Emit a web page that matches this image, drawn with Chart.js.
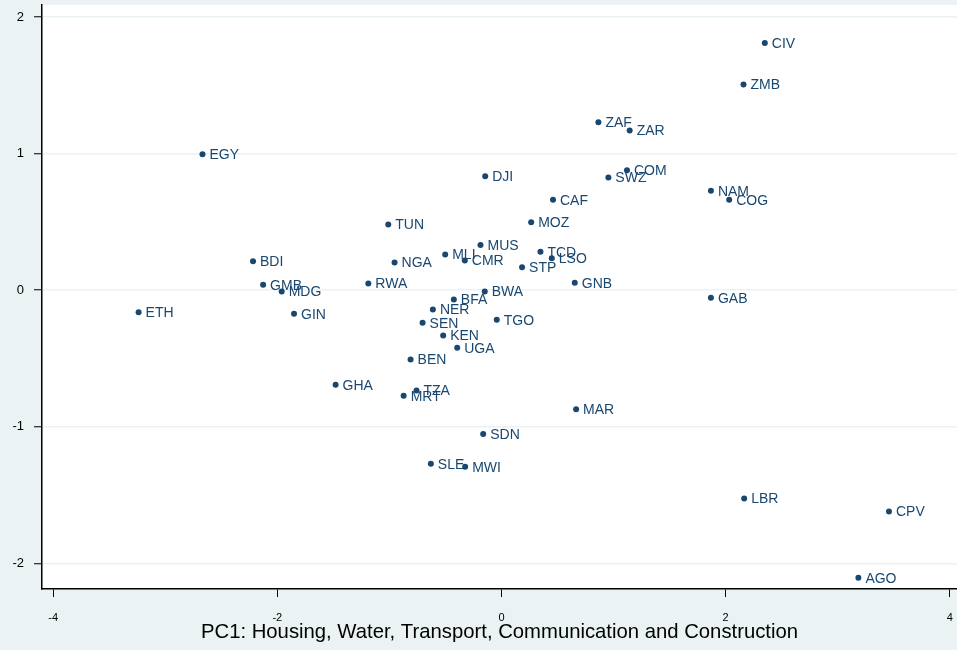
<!DOCTYPE html>
<html>
<head>
<meta charset="utf-8">
<script src="https://cdn.jsdelivr.net/npm/chart.js@4/dist/chart.umd.min.js"></script>
<style>
html,body{margin:0;padding:0;background:#eaf2f3;overflow:hidden;width:957px;height:650px;}
canvas{display:block;}
</style>
</head>
<body>
<canvas id="c" width="960" height="650"></canvas>
<script>
const countries = ["CIV","ZMB","ZAF","ZAR","EGY","DJI","SWZ","COM","CAF","NAM","COG","MOZ","TUN","MUS","MLI","CMR","TCD","LSO","STP","NGA","RWA","GNB","BWA","BFA","NER","TGO","SEN","KEN","UGA","BEN","GHA","TZA","MRT","MAR","SDN","SLE","MWI","LBR","CPV","AGO","GAB","ETH","BDI","GMB","MDG","GIN"];
const pc1 = [2.35,2.16,0.865,1.144,-2.668,-0.145,0.954,1.12,0.46,1.869,2.032,0.265,-1.01,-0.187,-0.502,-0.327,0.348,0.449,0.184,-0.954,-1.188,0.654,-0.149,-0.425,-0.612,-0.042,-0.704,-0.52,-0.395,-0.811,-1.48,-0.758,-0.873,0.666,-0.163,-0.63,-0.324,2.166,3.458,3.185,1.869,-3.238,-2.217,-2.127,-1.961,-1.851];
const pc2 = [1.81,1.506,1.23,1.169,0.996,0.835,0.825,0.878,0.662,0.728,0.662,0.498,0.481,0.33,0.261,0.217,0.281,0.234,0.168,0.203,0.049,0.054,-0.01,-0.068,-0.141,-0.217,-0.239,-0.332,-0.422,-0.507,-0.693,-0.734,-0.773,-0.871,-1.054,-1.271,-1.293,-1.525,-1.62,-2.105,-0.056,-0.161,0.212,0.04,-0.01,-0.173];
const xTicks = [-4,-2,0,2,4];
const yTicks = [-2,-1,0,1,2];
const xTitle = "PC1: Housing, Water, Transport, Communication and Construction";

const NAVY = '#1a476f';
const BG = '#eaf2f3';
const FONT = '"Liberation Sans", Arial, sans-serif';

const bgPlugin = {
  id: 'bgPlugin',
  beforeDraw(chart) {
    const ctx = chart.ctx, a = chart.chartArea;
    ctx.save();
    ctx.fillStyle = BG;
    ctx.fillRect(0, 0, chart.width, chart.height);
    ctx.fillStyle = '#ffffff';
    ctx.fillRect(a.left, a.top, a.right - a.left, a.bottom - a.top);
    ctx.restore();
  }
};

const labelPlugin = {
  id: 'labelPlugin',
  afterDatasetsDraw(chart) {
    const ctx = chart.ctx;
    const meta = chart.getDatasetMeta(0);
    ctx.save();
    ctx.font = '14px ' + FONT;
    ctx.fillStyle = NAVY;
    ctx.textAlign = 'left';
    ctx.textBaseline = 'middle';
    meta.data.forEach((pt, i) => {
      ctx.fillText(countries[i], pt.x + 7, pt.y + 1);
    });
    ctx.restore();
  }
};

new Chart(document.getElementById('c'), {
  type: 'scatter',
  data: {
    datasets: [{
      data: pc1.map((x, i) => ({x: x, y: pc2[i]})),
      backgroundColor: NAVY,
      borderColor: NAVY,
      borderWidth: 0,
      pointRadius: 3,
      pointHoverRadius: 3
    }]
  },
  options: {
    responsive: false,
    devicePixelRatio: 1,
    animation: false,
    layout: { padding: { left: 0, right: 0, top: 5, bottom: 0 } },
    plugins: { legend: { display: false }, tooltip: { enabled: false } },
    scales: {
      x: {
        type: 'linear',
        min: -4.1,
        max: 4.065,
        afterBuildTicks(scale) { scale.ticks = xTicks.map(v => ({value: v})); },
        afterFit(scale) { scale.height = 61; scale.paddingLeft = 0; scale.paddingRight = 0; },
        grid: { drawOnChartArea: false, drawTicks: true, tickLength: 8, tickColor: '#000', tickWidth: 1 },
        border: { display: true, color: '#000', width: 1.5 },
        ticks: { color: '#000', font: { size: 11, family: FONT }, padding: 14, maxRotation: 0 },
        title: { display: true, text: xTitle, color: '#000', font: { size: 20.3, family: FONT }, padding: { top: 0, bottom: 5 } }
      },
      y: {
        type: 'linear',
        min: -2.188,
        max: 2.088,
        afterBuildTicks(scale) { scale.ticks = yTicks.map(v => ({value: v})); },
        afterFit(scale) { scale.width = 42; scale.paddingTop = 0; scale.paddingBottom = 0; },
        grid: { color: BG, lineWidth: 1.5, drawTicks: true, tickLength: 8, tickColor: '#000', tickWidth: 1 },
        border: { display: true, color: '#000', width: 1.5 },
        ticks: { color: '#000', font: { size: 13, family: FONT }, padding: 10 }
      }
    }
  },
  plugins: [bgPlugin, labelPlugin]
});
</script>
</body>
</html>
